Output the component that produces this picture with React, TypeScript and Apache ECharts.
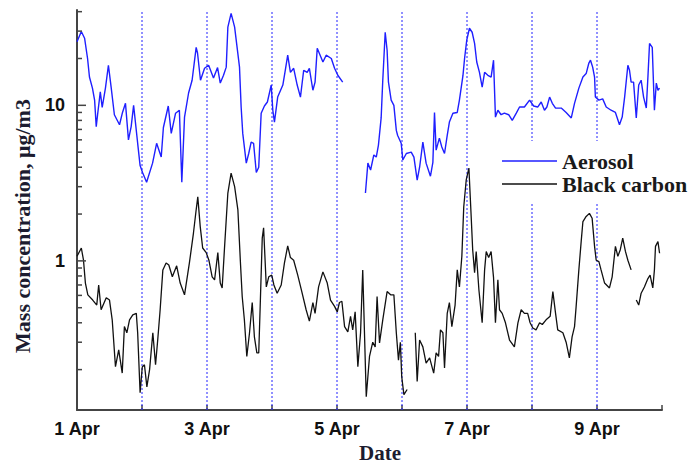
import React, { useEffect, useRef } from "react";
import * as echarts from "echarts";

// hours since 1 Apr 00:00, concentration (µg/m3); null = gap
const aerosol: [number, number | null][] = [
  [0, 25.6], [1.6, 29.8], [2.8, 27], [3.9, 20], [4.6, 15.2], [5.7, 12.9], [6.5, 10.8], [7.1, 7.3], [7.6, 8.7],
  [8.6, 12.2], [9.3, 9.7], [10.5, 12.9], [11.6, 18.1], [12.6, 13.1], [13.8, 8.7], [15.7, 7.5], [16.8, 9],
  [17.9, 10.3], [19.0, 6], [20.0, 7.3], [20.9, 10], [22.4, 5.7], [23.3, 4.1], [24.2, 3.7], [25.7, 3.2],
  [27.9, 4.25], [29.4, 5.7], [31.1, 4.65], [31.9, 7.2], [33.7, 9.9], [34.8, 6.6], [36.4, 8.9], [37.8, 9.3],
  [38.7, 3.2], [39.7, 8.4], [41.2, 12], [42.5, 14.5], [44.0, 23.6], [44.5, 21.7], [45.6, 14.5], [47.1, 17.3],
  [48.6, 18.1], [50.4, 15], [51.9, 17.5], [52.9, 13.9], [54.1, 15.6], [55.1, 17.6], [55.7, 31.8], [56.9, 39],
  [58.2, 31.8], [60.0, 17.6], [60.6, 9.8], [61.2, 6.6], [62.5, 4.25], [63.4, 4.9], [64.3, 5.8], [65.2, 5.7],
  [66.2, 3.7], [67.1, 4], [68.0, 8.9], [69.2, 9.9], [70.3, 10.5], [71.7, 13.5], [72.3, 9.3], [72.9, 7.8],
  [74.1, 11.3], [76.0, 13.5], [76.9, 16.8], [77.8, 21], [78.8, 16.3], [80.0, 17.3], [81.3, 13.5], [82.5, 11.3],
  [83.7, 16.8], [85.0, 16.3], [85.8, 17.3], [87.1, 12.5], [87.9, 14.1], [88.7, 23.3], [90.8, 19], [92.0, 21],
  [93.9, 20], [95.1, 17.3], [96.3, 15.6], [98.1, 14.1], [102, null],
  [106.5, 2.73], [107.4, 4.25], [108.4, 3.84], [109.6, 4.8], [110.5, 4.65], [111.3, 5.55], [112.3, 8.3],
  [112.9, 14.5], [113.8, 29.5], [114.5, 22.6], [115.0, 14.1], [116.0, 10.8], [117.0, 10], [117.9, 6.9],
  [118.4, 6.4], [119.7, 5.7], [120.3, 4.45], [121.6, 4.9], [123.4, 5], [124.4, 4.65], [125.6, 3.3], [126.5, 4],
  [127.7, 5.8], [128.9, 4.25], [130.5, 3.5], [131.4, 4.3], [132.0, 9], [132.6, 5.15], [133.8, 6.15], [134.7, 5.4],
  [135.7, 4.9], [136.7, 6.4], [137.5, 7.8], [138.8, 8.9], [140.4, 9], [141.2, 10.8], [142.5, 15.5], [143.1, 20],
  [143.9, 26.2], [144.9, 31.3], [145.9, 29.5], [146.8, 25], [147.6, 19], [148.6, 16.3], [149.6, 13.1],
  [150.5, 16.3], [151.7, 15.6], [152.9, 15.2], [153.8, 19.5], [154.5, 8.4], [155.4, 9.3], [156.6, 8.7],
  [157.8, 8.9], [159.4, 8.7], [160.7, 8.0], [162.2, 8.9], [163.4, 9.75], [165.2, 9.75], [167.1, 10.8],
  [168.6, 9.9], [170.1, 9.75], [171.4, 10.5], [172.6, 9.3], [173.5, 9.75], [174.5, 11.3], [175.5, 10.3],
  [176.7, 9.6], [178.8, 9.6], [180.6, 9.0], [182.5, 8.3], [183.7, 10.3], [185.3, 12.9], [186.8, 15.2],
  [188.0, 16], [189.0, 18.7], [189.6, 19.5], [190.4, 17.6], [191.1, 15.2], [191.4, 11.3], [192.7, 10.8],
  [194.1, 11], [195.4, 9.75], [197.2, 9.3], [198.8, 9.0], [200.3, 7.5], [201.3, 8.4], [202.2, 11.3],
  [203.4, 18.1], [204.0, 16.8], [204.6, 14.1], [205.5, 14.1], [206.5, 8.3], [207.4, 13.5], [208.3, 14.5],
  [209.2, 11.3], [210.2, 9.6], [210.8, 15.2], [211.4, 25], [212.4, 23.6], [213.2, 9.3], [213.9, 13.9],
  [214.5, 12.5], [215.1, 12.9],
];

const blackCarbon: [number, number | null][] = [
  [0, 1.07], [1.6, 1.21], [2.4, 1.01], [3.1, 0.72], [4.0, 0.605], [5.8, 0.56], [7.3, 0.52], [8.0, 0.7],
  [8.9, 0.485], [10.8, 0.58], [12.0, 0.56], [13.0, 0.418], [14.2, 0.209], [15.4, 0.268], [16.7, 0.19],
  [17.5, 0.378], [18.4, 0.345], [19.4, 0.418], [20.6, 0.45], [21.9, 0.46], [22.4, 0.345], [23.3, 0.142],
  [24.1, 0.208], [24.9, 0.215], [25.8, 0.155], [26.8, 0.2], [28.0, 0.345], [29.0, 0.215], [29.8, 0.31],
  [30.7, 0.485], [31.7, 0.875], [32.9, 0.97], [33.9, 0.94], [35.2, 0.79], [36.8, 0.93], [38.1, 0.72],
  [39.7, 0.605], [41.5, 0.97], [43.0, 1.51], [44.0, 2.13], [44.6, 2.58], [45.5, 1.66], [46.4, 1.21],
  [47.7, 1.13], [48.7, 1.01], [49.9, 0.79], [50.8, 0.755], [52.0, 1.13], [52.9, 0.72], [53.6, 0.67],
  [54.5, 1.24], [55.7, 2.73], [56.9, 3.67], [58.2, 3.0], [59.4, 2.13], [60.3, 1.01], [61.0, 0.59],
  [61.8, 0.418], [62.7, 0.243], [63.7, 0.345], [64.7, 0.54], [65.5, 0.325], [66.4, 0.256], [67.1, 0.256],
  [67.6, 0.485], [68.4, 1.4], [68.9, 1.63], [69.9, 0.68], [70.8, 0.79], [71.9, 0.81], [72.7, 0.7],
  [73.9, 0.62], [75.4, 0.7], [76.6, 0.97], [77.8, 1.25], [78.8, 1.05], [80.0, 1.01], [81.5, 0.81],
  [83.0, 0.635], [84.6, 0.485], [85.8, 0.41], [87.1, 0.54], [87.9, 0.46], [89.2, 0.68], [90.8, 0.85],
  [92.4, 0.72], [93.6, 0.56], [95.1, 0.51], [96.1, 0.47], [96.9, 0.54], [97.8, 0.55], [98.8, 0.378],
  [100.0, 0.35], [101.0, 0.44], [101.8, 0.36], [102.7, 0.47], [103.7, 0.209], [104.7, 0.345], [105.5, 0.875],
  [106.8, 0.134], [108.0, 0.243], [109.2, 0.3], [110.1, 0.28], [110.8, 0.59], [111.7, 0.297], [112.9, 0.418],
  [114.5, 0.635], [115.8, 0.605], [117.0, 0.605], [117.9, 0.345], [118.7, 0.23], [119.4, 0.3], [119.9, 0.18],
  [120.7, 0.138], [121.9, 0.149], [123.4, null],
  [124.9, 0.345], [125.6, 0.168], [126.5, 0.31], [127.7, 0.28], [128.9, 0.22], [130.2, 0.238], [131.7, 0.19],
  [132.6, 0.256], [133.5, 0.243], [134.2, 0.36], [135.1, 0.345], [135.7, 0.205], [136.7, 0.46], [137.5, 0.54],
  [138.4, 0.378], [139.6, 0.52], [140.4, 0.875], [141.2, 0.68], [142.1, 1.07], [142.8, 2.23], [143.7, 3.3],
  [144.7, 3.95], [145.6, 1.83], [146.1, 1.18], [146.8, 0.84], [147.4, 1.15], [148.4, 0.65], [149.6, 0.4],
  [150.5, 0.875], [151.1, 1.15], [152.0, 1.05], [152.9, 1.15], [153.8, 0.78], [154.5, 0.4], [155.4, 0.755],
  [156.0, 0.485], [157.0, 0.46], [158.2, 0.4], [159.7, 0.31], [161.5, 0.28], [162.8, 0.4], [164.0, 0.485],
  [165.2, 0.46], [166.4, 0.46], [167.3, 0.4], [168.3, 0.37], [169.5, 0.36], [170.8, 0.4], [171.8, 0.39],
  [173.2, 0.418], [174.7, 0.44], [175.7, 0.635], [176.7, 0.46], [177.5, 0.36], [179.4, 0.345], [180.6, 0.3],
  [181.8, 0.238], [182.8, 0.325], [183.7, 0.378], [184.3, 0.51], [185.3, 0.875], [186.2, 1.36], [186.8, 1.79],
  [188.0, 1.93], [189.2, 2.02], [190.2, 1.88], [191.1, 1.24], [191.7, 1.01], [192.7, 0.99], [193.5, 0.875],
  [194.8, 0.72], [196.6, 0.67], [197.6, 0.79], [198.8, 1.24], [199.7, 1.07], [200.6, 1.18], [201.5, 1.4],
  [202.5, 1.15], [203.4, 1.01], [204.6, 0.875], [205.5, null],
  [206.5, 0.56], [207.4, 0.52], [208.3, 0.62], [209.5, 0.68], [210.8, 0.77], [211.6, 0.81], [212.6, 0.67],
  [213.2, 0.875], [213.6, 1.24], [214.5, 1.33], [215.1, 1.12],
];

const dayLines = [24, 48, 72, 96, 120, 144, 168, 192];
const yTicks = [0.2, 0.3, 0.4, 0.5, 0.6, 0.7, 0.8, 0.9, 1, 2, 3, 4, 5, 6, 7, 8, 9, 10, 20, 30, 40];
const yMajor = [1, 10];
const Y_MIN = 0.11;
const Y_MAX = 41;

const AXIS = "#444";

export default function App() {
  const ref = useRef<HTMLDivElement>(null);
  useEffect(() => {
    if (!ref.current) return;
    const chart = echarts.init(ref.current, null, { renderer: "svg" });
    chart.setOption({
      animation: false,
      backgroundColor: "#fff",
      grid: { left: 77, right: 28, top: 10, bottom: 55 },
      legend: {
        data: ["Aerosol", "Black carbon"],
        orient: "vertical",
        left: 497,
        top: 141,
        icon: "rect",
        itemWidth: 55,
        itemHeight: 1.5,
        itemGap: 1,
        padding: [9, 6, 8, 5],
        backgroundColor: "#fff",
        z: 10,
        textStyle: {
          fontFamily: "Liberation Serif",
          fontWeight: "bold",
          fontSize: 22,
          color: "#1a1a1a",
          lineHeight: 22,
        },
      },
      xAxis: {
        type: "value",
        min: 0,
        max: 216,
        interval: 24,
        axisLine: { show: true, onZero: false, lineStyle: { color: AXIS, width: 2 } },
        axisTick: { show: true, inside: true, length: 5, lineStyle: { color: AXIS, width: 1.5 } },
        splitLine: { show: false },
        axisLabel: {
          margin: 10,
          fontFamily: "Liberation Sans",
          fontWeight: "bold",
          fontSize: 18,
          color: "#111",
          formatter: (v: number) => (v % 48 === 0 && v < 216 ? `${v / 24 + 1} Apr` : ""),
        },
      },
      yAxis: {
        type: "log",
        logBase: 10,
        min: Y_MIN,
        max: Y_MAX,
        axisLine: { show: true, lineStyle: { color: AXIS, width: 2 } },
        axisTick: { show: false },
        splitLine: { show: false },
        axisLabel: {
          margin: 12,
          showMinLabel: false,
          showMaxLabel: false,
          fontFamily: "Liberation Sans",
          fontWeight: "bold",
          fontSize: 18,
          color: "#111",
          formatter: (v: number) =>
            Math.abs(v - 1) < 1e-6 ? "1" : Math.abs(v - 10) < 1e-6 ? "10" : "",
        },
      },
      graphic: [
        {
          type: "text",
          x: 22,
          y: 226,
          rotation: Math.PI / 2,
          style: {
            text: "Mass concentration, μg/m3",
            fontFamily: "Liberation Serif",
            fontWeight: "bold",
            fontSize: 22,
            fill: "#1c1c30",
            align: "center",
            verticalAlign: "middle",
          },
        },
        {
          type: "text",
          x: 380,
          y: 453,
          style: {
            text: "Date",
            fontFamily: "Liberation Serif",
            fontWeight: "bold",
            fontSize: 21,
            fill: "#1c1c30",
            align: "center",
            verticalAlign: "middle",
          },
        },
      ],
      series: [
        {
          name: "days",
          type: "custom",
          silent: true,
          z: 1,
          data: dayLines.map((h) => [h]),
          renderItem: (_p: any, api: any) => {
            const top = api.coord([api.value(0), Y_MAX]);
            const bot = api.coord([api.value(0), Y_MIN]);
            return {
              type: "line",
              shape: { x1: top[0], y1: top[1] + 2, x2: bot[0], y2: bot[1] },
              style: { stroke: "#2323ff", lineWidth: 1, lineDash: [2, 2] },
            };
          },
        },
        {
          name: "Aerosol",
          type: "line",
          data: aerosol,
          symbol: "none",
          showSymbol: false,
          connectNulls: false,
          lineStyle: { color: "#1f1fff", width: 1.4 },
          itemStyle: { color: "#1f1fff" },
          z: 3,
        },
        {
          name: "Black carbon",
          type: "line",
          data: blackCarbon,
          symbol: "none",
          showSymbol: false,
          connectNulls: false,
          lineStyle: { color: "#111", width: 1.3 },
          itemStyle: { color: "#111" },
          z: 3,
        },
        {
          name: "ticks",
          type: "custom",
          silent: true,
          z: 5,
          data: yTicks.map((v) => [0, v, yMajor.includes(v) ? 1 : 0]),
          renderItem: (_p: any, api: any) => {
            const pt = api.coord([api.value(0), api.value(1)]);
            const len = api.value(2) ? 9 : 5;
            return {
              type: "line",
              shape: { x1: pt[0], y1: pt[1], x2: pt[0] + len, y2: pt[1] },
              style: { stroke: AXIS, lineWidth: 1.5 },
            };
          },
        },
      ],
    });
    return () => chart.dispose();
  }, []);
  return (
    <div
      ref={ref}
      style={{ position: "absolute", left: 0, top: 0, width: 690, height: 465 }}
    />
  );
}
